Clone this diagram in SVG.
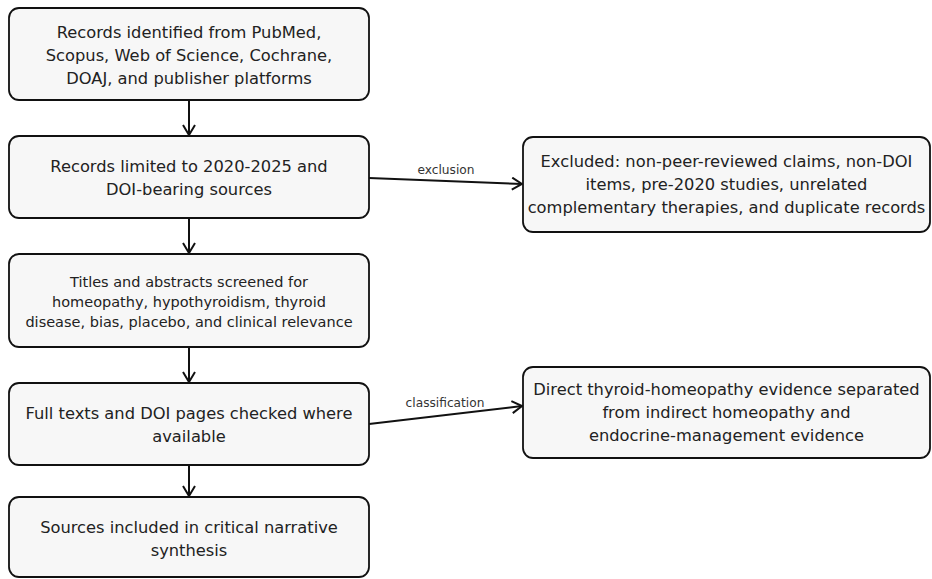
<svg xmlns="http://www.w3.org/2000/svg" width="932" height="579" viewBox="0 0 932 579">
<style>
.box{fill:#f7f7f7;stroke:#111;stroke-width:1.8}
.t{font-family:"DejaVu Sans",sans-serif;font-size:16.3px;fill:#222;text-anchor:middle}
.s{font-size:14.5px}
.lbl{font-family:"DejaVu Sans",sans-serif;font-size:12.2px;fill:#333;text-anchor:middle}
.c{fill:none;stroke:#111;stroke-width:2}
</style>
<defs>
<marker id="ah" viewBox="0 0 12 14" refX="11" refY="7" markerWidth="12" markerHeight="14" markerUnits="userSpaceOnUse" orient="auto">
<path d="M1,1 L11,7 L1,13" fill="none" stroke="#111" stroke-width="2"/>
</marker>
</defs>
<g id="connectors">
<line class="c" x1="189" y1="100" x2="189" y2="135" marker-end="url(#ah)"/>
<line class="c" x1="189" y1="218" x2="189" y2="253" marker-end="url(#ah)"/>
<line class="c" x1="189" y1="347" x2="189" y2="382" marker-end="url(#ah)"/>
<line class="c" x1="189" y1="465" x2="189" y2="496" marker-end="url(#ah)"/>
<line class="c" x1="369" y1="178" x2="522" y2="184" marker-end="url(#ah)"/>
<text class="lbl" x="446" y="174">exclusion</text>
<line class="c" x1="369" y1="424" x2="522" y2="406" marker-end="url(#ah)"/>
<text class="lbl" x="445" y="407">classification</text>
</g>
<g id="n1">
<rect class="box" x="9" y="8" width="360" height="92" rx="10"/>
<text class="t" x="189" y="38">Records identified from PubMed,</text>
<text class="t" x="189" y="61">Scopus, Web of Science, Cochrane,</text>
<text class="t" x="189" y="84">DOAJ, and publisher platforms</text>
</g>
<g id="n2">
<rect class="box" x="9" y="136" width="360" height="82" rx="10"/>
<text class="t" x="189" y="172">Records limited to 2020-2025 and</text>
<text class="t" x="189" y="195">DOI-bearing sources</text>
</g>
<g id="n3">
<rect class="box" x="9" y="254" width="360" height="93" rx="10"/>
<text class="t s" x="189" y="287">Titles and abstracts screened for</text>
<text class="t s" x="189" y="307">homeopathy, hypothyroidism, thyroid</text>
<text class="t s" x="189" y="327">disease, bias, placebo, and clinical relevance</text>
</g>
<g id="n4">
<rect class="box" x="9" y="383" width="360" height="82" rx="10"/>
<text class="t" x="189" y="419">Full texts and DOI pages checked where</text>
<text class="t" x="189" y="442">available</text>
</g>
<g id="n5">
<rect class="box" x="9" y="497" width="360" height="80" rx="10"/>
<text class="t" x="189" y="533">Sources included in critical narrative</text>
<text class="t" x="189" y="556">synthesis</text>
</g>
<g id="n6">
<rect class="box" x="523" y="137" width="407" height="95" rx="10"/>
<text class="t" x="726.5" y="167">Excluded: non-peer-reviewed claims, non-DOI</text>
<text class="t" x="726.5" y="190">items, pre-2020 studies, unrelated</text>
<text class="t" x="726.5" y="213">complementary therapies, and duplicate records</text>
</g>
<g id="n7">
<rect class="box" x="523" y="367" width="407" height="91" rx="10"/>
<text class="t" x="726.5" y="395">Direct thyroid-homeopathy evidence separated</text>
<text class="t" x="726.5" y="418">from indirect homeopathy and</text>
<text class="t" x="726.5" y="441">endocrine-management evidence</text>
</g>
</svg>
